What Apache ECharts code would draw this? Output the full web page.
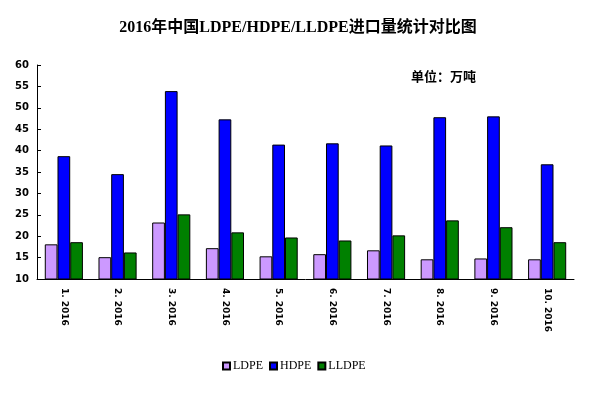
<!DOCTYPE html>
<html><head><meta charset="utf-8">
<script src="https://cdn.jsdelivr.net/npm/echarts@6/dist/echarts.min.js"></script>
<style>html,body{margin:0;padding:0;background:#fff}#c{width:596px;height:393px}</style>
</head><body><div id="c"></div>
<script>
const categories = ['1. 2016','2. 2016','3. 2016','4. 2016','5. 2016','6. 2016','7. 2016','8. 2016','9. 2016','10. 2016'];
const ldpe  = [18.1, 15.1, 23.2, 17.2, 15.3, 15.8, 16.7, 14.6, 14.8, 14.6];
const hdpe  = [38.7, 34.5, 53.9, 47.3, 41.4, 41.7, 41.2, 47.8, 48.0, 36.8];
const lldpe = [18.6, 16.2, 25.1, 20.9, 19.7, 19.0, 20.2, 23.7, 22.1, 18.6];
const yTicks = {min: 10, max: 60, interval: 5};

const serif = '"Liberation Serif", "Noto Sans CJK SC", serif';
const sansB = '"DejaVu Sans", sans-serif';
const chart = echarts.init(document.getElementById('c'));
const mk = (name, data, color) => ({
  name, type: 'bar', data, barGap: '0%', barCategoryGap: '29%',
  itemStyle: {color, borderColor: '#000', borderWidth: 1}
});
chart.setOption({
  animation: false,
  backgroundColor: '#fff',
  title: [{
    text: '2016年中国LDPE/HDPE/LLDPE进口量统计对比图',
    left: 'center', top: 15,
    textStyle: {fontFamily: serif, fontSize: 16, fontWeight: 'bold', color: '#000'}
  }, {
    text: '单位：万吨', left: 406, top: 66,
    textStyle: {fontFamily: serif, fontSize: 13, fontWeight: 'bold', color: '#000'}
  }],
  legend: {
    data: ['LDPE','HDPE','LLDPE'], left: 217, top: 355,
    itemWidth: 7, itemHeight: 7, itemGap: 6,
    textStyle: {fontFamily: '"Liberation Serif", serif', fontSize: 12, color: '#000', padding: [0,0,0,-2]},
    icon: 'rect'
  },
  grid: {left: 37, right: 22, top: 65, bottom: 114},
  xAxis: {
    type: 'category', data: categories,
    axisLine: {lineStyle: {color: '#000', width: 1}},
    axisTick: {inside: true, length: 4, lineStyle: {color: '#000'}},
    axisLabel: {rotate: -90, interval: 0, margin: 9, color: '#000', fontFamily: sansB, fontSize: 9, fontWeight: 'bold'}
  },
  yAxis: {
    type: 'value', min: yTicks.min, max: yTicks.max, interval: yTicks.interval,
    splitLine: {show: false},
    axisLine: {show: true, lineStyle: {color: '#000', width: 1}},
    axisTick: {show: true, inside: true, length: 4, lineStyle: {color: '#000'}},
    axisLabel: {color: '#000', fontFamily: sansB, fontSize: 10, fontWeight: 'bold', margin: 8}
  },
  series: [mk('LDPE', ldpe, '#cc99ff'), mk('HDPE', hdpe, '#0000ff'), mk('LLDPE', lldpe, '#008000')]
});
</script></body></html>
